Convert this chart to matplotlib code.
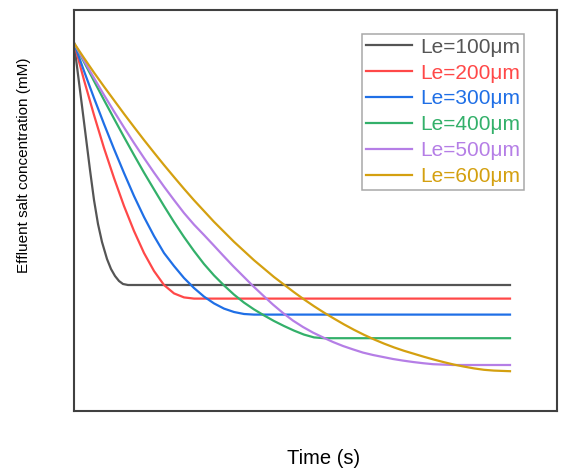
import matplotlib
matplotlib.use("Agg")
import matplotlib.pyplot as plt

plt.rcParams['font.family'] = ['Liberation Sans', 'DejaVu Sans']

# values (time in arbitrary s, concentration in arbitrary mM)
t_100 = [0, 8, 16, 20, 24, 28, 33, 37, 41, 45, 49, 54, 436]
c_100 = [92.0, 76.25, 60.25, 52.75, 46.75, 42.25, 38.0, 35.5, 33.75, 32.5, 31.75, 31.5, 31.5]

t_200 = [0, 10, 20, 30, 40, 50, 60, 70, 80, 90, 100, 110, 120, 436]
c_200 = [92.0, 82.75, 74.0, 65.75, 58.25, 51.25, 45.0, 39.5, 35.0, 31.5, 29.4, 28.4, 28.1, 28.1]

t_300 = [0, 10, 20, 30, 40, 50, 60, 70, 80, 90, 100, 110, 120, 130, 140, 150, 160, 170, 180, 436]
c_300 = [92.0, 85.0, 78.25, 71.75, 65.5, 59.5, 53.75, 48.5, 43.75, 39.5, 36.25, 33.25, 30.75,
         28.6, 26.9, 25.6, 24.75, 24.25, 24.1, 24.1]

t_400 = [0, 10, 20, 30, 40, 50, 60, 70, 80, 90, 100, 110, 120, 130, 140, 150, 160, 170, 180,
         190, 200, 210, 220, 230, 240, 250, 436]
c_400 = [92.0, 87.25, 82.5, 77.75, 73.1, 68.5, 64.0, 59.6, 55.4, 51.25, 47.25, 43.5, 40.0,
         36.75, 33.9, 31.4, 29.1, 27.1, 25.4, 23.9, 22.5, 21.25, 20.1, 19.1, 18.4, 18.2, 18.2]

t_500 = [0, 10, 20, 30, 40, 50, 60, 70, 80, 90, 100, 110, 120, 130, 139, 149, 159, 169, 179,
         189, 199, 209, 219, 229, 239, 249, 259, 269, 279, 289, 299, 309, 319, 329, 339, 349,
         359, 369, 379, 436]
c_500 = [92.0, 87.6, 83.25, 79.0, 74.9, 70.9, 67.0, 63.25, 59.6, 56.1, 52.75, 49.5, 46.6, 44.0,
         41.6, 38.9, 36.25, 33.75, 31.25, 28.9, 26.6, 24.5, 22.6, 21.0, 19.6, 18.4, 17.25,
         16.25, 15.4, 14.6, 14.0, 13.5, 13.0, 12.6, 12.25, 11.95, 11.7, 11.6, 11.5, 11.5]

t_600 = [0, 10, 20, 30, 40, 50, 60, 70, 80, 90, 100, 110, 120, 130, 140, 150, 160, 170, 180,
         190, 200, 210, 220, 230, 240, 250, 260, 270, 280, 290, 300, 310, 320, 330, 340, 350,
         360, 370, 380, 390, 400, 410, 420, 436]
c_600 = [92.0, 88.25, 84.6, 81.1, 77.7, 74.3, 71.0, 67.75, 64.6, 61.5, 58.5, 55.55, 52.7, 50.0,
         47.3, 44.8, 42.3, 40.0, 37.7, 35.6, 33.5, 31.6, 29.7, 27.9, 26.2, 24.6, 23.1, 21.65,
         20.3, 19.05, 17.9, 16.85, 15.9, 15.05, 14.3, 13.55, 12.85, 12.2, 11.6, 11.1, 10.65,
         10.3, 10.1, 9.95]

labels = ['Le=100μm', 'Le=200μm', 'Le=300μm', 'Le=400μm', 'Le=500μm', 'Le=600μm']
colors = ['#555555', '#ff4848', '#1f6fe6', '#33b06a', '#b57ee6', '#d4a010']

series = [(t_100, c_100), (t_200, c_200), (t_300, c_300),
          (t_400, c_400), (t_500, c_500), (t_600, c_600)]

fig = plt.figure(figsize=(5.62, 4.70), dpi=100)
ax = fig.add_axes([73.5 / 562, 59 / 470, (557 - 73.5) / 562, 401 / 470])

for (t, c), lab, col in zip(series, labels, colors):
    ax.plot(t, c, color=col, lw=1.6, label=lab, solid_joinstyle='round')

ax.set_xlim(-0.5, 483)
ax.set_ylim(0, 100.25)
ax.set_xticks([])
ax.set_yticks([])
for s in ax.spines.values():
    s.set_color('#404040')
    s.set_linewidth(1.5)

ax.set_xlabel('Time (s)', fontsize=14.5, va='center')
ax.xaxis.set_label_coords((324 - 73.5) / 483.5, (411 - 458) / 401)
ax.set_ylabel('Effluent salt concentration (mM)', fontsize=11, va='center')
ax.yaxis.set_label_coords((24 - 73.5) / 483.5, (411 - 165) / 401)

leg = ax.legend(loc='upper right', bbox_to_anchor=((524 - 73.5) / 483.5, (411 - 34) / 401),
                fontsize=15, labelcolor='linecolor', frameon=True, fancybox=False,
                edgecolor='#a8a8a8', framealpha=1, handlelength=2.2, handletextpad=0.4,
                labelspacing=0.33, borderpad=0.18, borderaxespad=0)
leg.get_frame().set_linewidth(1.1)

fig.savefig('out.png', dpi=100)
